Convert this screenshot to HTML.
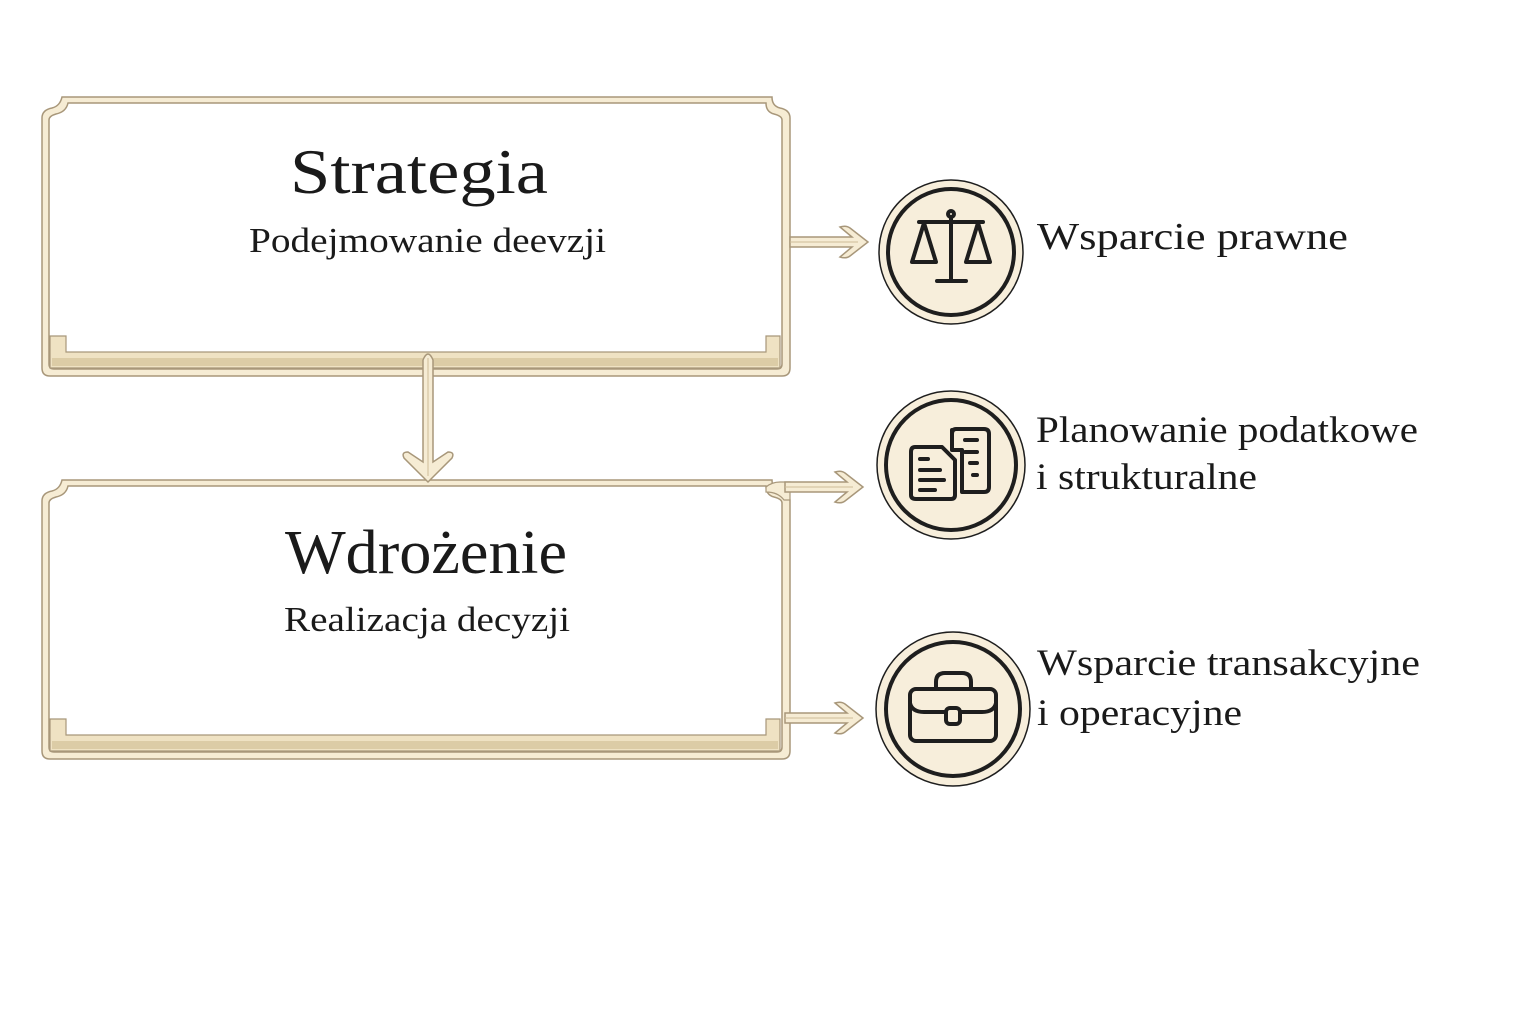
<!DOCTYPE html>
<html><head><meta charset="utf-8"><style>
html,body{margin:0;padding:0;background:#fff;width:1536px;height:1024px;overflow:hidden}
svg{display:block}
text{font-family:"Liberation Serif",serif;fill:#1a1a1a}
</style></head><body>
<svg width="1536" height="1024" viewBox="0 0 1536 1024" xmlns="http://www.w3.org/2000/svg">
<defs>
<g id="box">
  <path d="M42,118 Q42,110 52,108 Q60,106 62,97 L772,97 Q772,106 780,108 Q790,110 790,118 L790,368 Q790,376 782,376 L50,376 Q42,376 42,368 Z" fill="#f6ecd4" stroke="#a8977a" stroke-width="1.5"/>
  <path d="M49,120 Q49,116 56,114 Q66,112 68,103 L766,103 Q766,112 774,114 Q782,116 782,120 L782,364 Q782,369 777,369 L54,369 Q49,369 49,364 Z" fill="#fff" stroke="#a8977a" stroke-width="1.5"/>
  <path d="M50,336 L66,336 L66,352 L766,352 L766,336 L780,336 L780,368 L50,368 Z" fill="#efe2c3" stroke="#a8977a" stroke-width="1.2"/>
  <rect x="52" y="358" width="726" height="8" fill="#dccca6"/>
</g>
<g id="harrow">
  <path d="M0,-5 L62,-5 L50,-15 Q56,-17 60,-14 L78,0 L60,14 Q56,17 50,15 L62,5 L0,5 Z" fill="#f6ecd4" stroke="#a8977a" stroke-width="1.5"/>
  <line x1="0" y1="0" x2="68" y2="0" stroke="#cdbb98" stroke-width="1"/>
</g>
</defs>

<use href="#box"/>
<use href="#box" transform="translate(0,383)"/>

<!-- vertical arrow -->
<path d="M423,360 Q428,348 433,360 L433,462 L448,452 Q455,452 452,458 L428,482 L404,458 Q401,452 408,452 L423,462 Z" fill="#f6ecd4" stroke="#a8977a" stroke-width="1.5"/>
<line x1="428" y1="358" x2="428" y2="476" stroke="#cdbb98" stroke-width="1"/>

<!-- horizontal arrows -->
<use href="#harrow" transform="translate(790,242)"/>
<path d="M766,487 Q772,482 780,482 L790,482 L790,500 L784,500 Q778,492 766,492 Z" fill="#f6ecd4" stroke="#a8977a" stroke-width="1.2"/>
<use href="#harrow" transform="translate(785,487)"/>
<use href="#harrow" transform="translate(785,718)"/>

<!-- texts -->
<text x="290" y="193" font-size="64" textLength="258" lengthAdjust="spacingAndGlyphs">Strategia</text>
<text x="249" y="252" font-size="35" textLength="357" lengthAdjust="spacingAndGlyphs">Podejmowanie deevzji</text>
<text x="285" y="573" font-size="62" textLength="282" lengthAdjust="spacingAndGlyphs">Wdrożenie</text>
<text x="284" y="631" font-size="35" textLength="286" lengthAdjust="spacingAndGlyphs">Realizacja decyzji</text>

<text x="1037" y="249" font-size="38" textLength="311" lengthAdjust="spacingAndGlyphs">Wsparcie prawne</text>
<text x="1036" y="442" font-size="37" textLength="382" lengthAdjust="spacingAndGlyphs">Planowanie podatkowe</text>
<text x="1036" y="489" font-size="37" textLength="221" lengthAdjust="spacingAndGlyphs">i strukturalne</text>
<text x="1037" y="675" font-size="37" textLength="383" lengthAdjust="spacingAndGlyphs">Wsparcie transakcyjne</text>
<text x="1037" y="725" font-size="37" textLength="205" lengthAdjust="spacingAndGlyphs">i operacyjne</text>

<!-- circles -->
<g fill="#f7eedb" stroke="#1e1e1e">
  <circle cx="951" cy="252" r="72" stroke-width="1.5"/>
  <circle cx="951" cy="252" r="63" stroke-width="4"/>
  <circle cx="951" cy="465" r="74" stroke-width="1.5"/>
  <circle cx="951" cy="465" r="65" stroke-width="4"/>
  <circle cx="953" cy="709" r="77" stroke-width="1.5"/>
  <circle cx="953" cy="709" r="67" stroke-width="4"/>
</g>
<!-- scales icon -->
<g fill="none" stroke="#1e1e1e" stroke-width="4" stroke-linecap="round" stroke-linejoin="round">
  <circle cx="951" cy="214" r="3"/>
  <line x1="951" y1="218" x2="951" y2="280"/>
  <line x1="919" y1="222" x2="983" y2="222"/>
  <line x1="937" y1="281" x2="966" y2="281"/>
  <path d="M924,223 L912,262 L936,262 Z"/>
  <path d="M978,223 L966,262 L990,262 Z"/>
</g>
<!-- documents icon -->
<g fill="none" stroke="#1e1e1e" stroke-width="4" stroke-linecap="round" stroke-linejoin="round">
  <path d="M952,430 L952,450 L962,450 L962,492 L984,492 Q989,492 989,487 L989,434 Q989,429 984,429 L956,429 Q952,429 952,434"/>
  <path d="M915,447 L942,447 L955,460 L955,495 Q955,499 951,499 L916,499 Q911,499 911,495 L911,452 Q911,447 915,447 Z"/>
  <line x1="965" y1="440" x2="977" y2="440"/>
  <line x1="965" y1="452" x2="977" y2="452"/>
  <line x1="970" y1="463" x2="977" y2="463"/>
  <line x1="973" y1="475" x2="977" y2="475"/>
  <line x1="920" y1="459" x2="928" y2="459"/>
  <line x1="920" y1="470" x2="940" y2="470"/>
  <line x1="920" y1="480" x2="944" y2="480"/>
  <line x1="920" y1="490" x2="935" y2="490"/>
</g>
<!-- briefcase icon -->
<g fill="none" stroke="#1e1e1e" stroke-width="4" stroke-linecap="round" stroke-linejoin="round">
  <path d="M936,689 L936,682 Q936,673 945,673 L962,673 Q971,673 971,682 L971,689"/>
  <rect x="910" y="689" width="86" height="52" rx="6"/>
  <path d="M910,703 Q912,712 924,712 L945,712"/>
  <path d="M996,703 Q994,712 982,712 L961,712"/>
  <rect x="946" y="708" width="14" height="16" rx="4"/>
</g>
</svg>
</body></html>
